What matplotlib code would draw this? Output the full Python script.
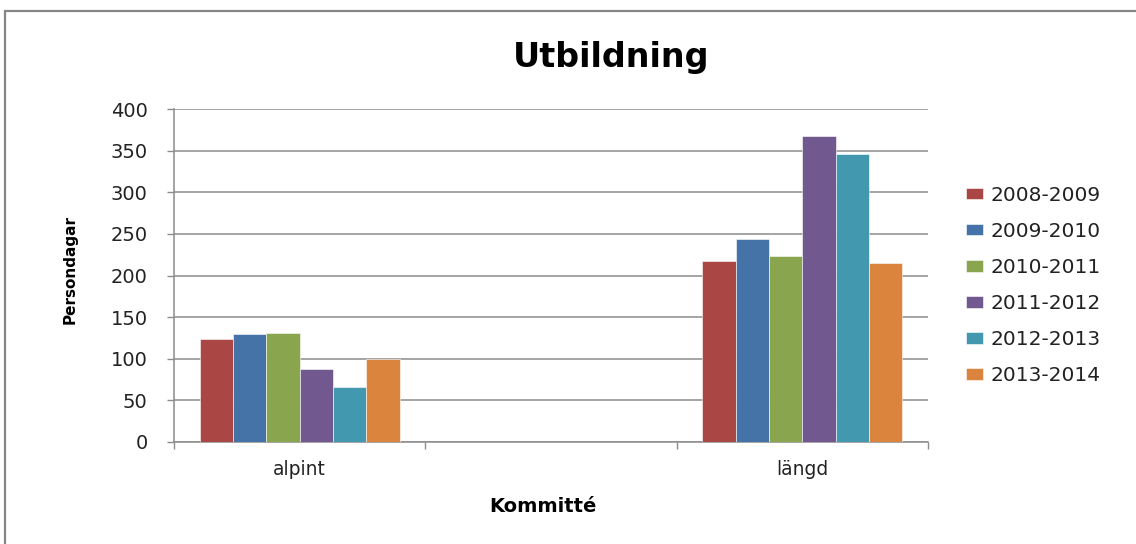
import numpy as np
import matplotlib
matplotlib.use("Agg")
import matplotlib.pyplot as plt
import matplotlib.patches as patches

# data
categories = ["alpint", "", "längd"]
seasons = ["2008-2009", "2009-2010", "2010-2011", "2011-2012", "2012-2013", "2013-2014"]
v2008 = [124, np.nan, 218]
v2009 = [130, np.nan, 244]
v2010 = [131, np.nan, 223]
v2011 = [88, np.nan, 368]
v2012 = [66, np.nan, 346]
v2013 = [100, np.nan, 215]
series = [v2008, v2009, v2010, v2011, v2012, v2013]
colors = ["#AA4643", "#4572A7", "#89A54E", "#71588F", "#4198AF", "#DB843D"]
yticks = [0, 50, 100, 150, 200, 250, 300, 350, 400]

W, H = 1136, 544
dpi = 100.0
fig = plt.figure(figsize=(W / dpi, H / dpi), dpi=dpi, facecolor="white")

# outer chart border (cut off at right and bottom like the screenshot)
border = patches.Rectangle((5 / W, -0.05), 1.2, 1 - 10.5 / H + 0.05,
                           transform=fig.transFigure, fill=False,
                           edgecolor="#868686", lw=1.6, clip_on=False)
fig.add_artist(border)

ax = fig.add_axes([174 / W, (H - 441.7) / H, 754 / W, 332.4 / H])

x = np.arange(len(categories))
n = len(series)
w = 0.796 / n
for i, (vals, col, lab) in enumerate(zip(series, colors, seasons)):
    ax.bar(x + (i - (n - 1) / 2) * w, vals, width=w, color=col,
           edgecolor="white", linewidth=0.4, label=lab, zorder=3)

ax.set_xlim(-0.5, len(categories) - 0.5)
ax.set_ylim(0, 400)
ax.set_yticks(yticks)
ax.yaxis.grid(True, color="#8c8c8c", lw=1.1, zorder=0)
ax.set_axisbelow(True)

# category boundaries as major ticks, names on minor ticks
ax.set_xticks(np.arange(len(categories) + 1) - 0.5)
ax.set_xticklabels([])
ax.set_xticks(x, minor=True)
ax.set_xticklabels(categories, minor=True)
ax.tick_params(axis="x", which="major", direction="out", length=5, width=1, color="#8c8c8c")
ax.tick_params(axis="x", which="minor", length=0, pad=13, labelsize=13.5, labelcolor="#222222")
ax.tick_params(axis="y", direction="out", length=5, width=1, color="#8c8c8c",
               pad=14, labelsize=14, labelcolor="#222222")

for s in ["top", "right"]:
    ax.spines[s].set_visible(False)
for s in ["left", "bottom"]:
    ax.spines[s].set_color("#8c8c8c")
    ax.spines[s].set_linewidth(1.1)

fig.text(611 / W, 1 - 58 / H, "Utbildning", ha="center", va="center",
         fontsize=24, fontweight="bold", color="black")
fig.text(543 / W, 1 - 507 / H, "Kommitté", ha="center", va="center",
         fontsize=14, fontweight="bold", color="black")
fig.text(70 / W, 1 - 270 / H, "Persondagar", ha="center", va="center",
         rotation=90, fontsize=11, fontweight="bold", color="black")

fig.legend(loc="center left", bbox_to_anchor=(966 / W, 1 - 285.5 / H),
           frameon=False, fontsize=14.5, handlelength=0.85, handleheight=0.5,
           handletextpad=0.35, labelspacing=0.85, borderpad=0, borderaxespad=0,
           labelcolor="#222222")

fig.savefig("out.png", dpi=dpi)
